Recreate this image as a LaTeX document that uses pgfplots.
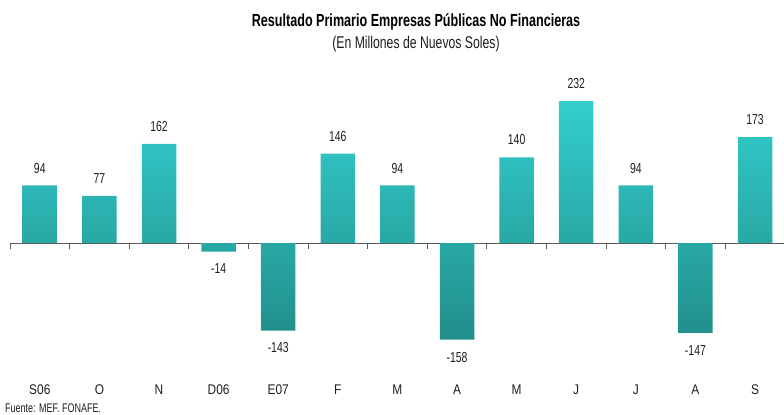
\documentclass[border=0pt]{standalone}
\usepackage{fontspec}
\setmainfont[FakeStretch=0.72]{Liberation Sans}
\newfontfamily\catfont[FakeStretch=0.85]{Liberation Sans}
\usepackage{pgfplots}
\pgfplotsset{compat=1.18}
\definecolor{barTop}{RGB}{51,206,206}
\definecolor{barBot}{RGB}{33,142,138}
\definecolor{txt}{RGB}{30,30,30}
\definecolor{axl}{RGB}{90,90,90}
\begin{document}
\begin{tikzpicture}[x=1bp,y=1bp]
\useasboundingbox (0,0) rectangle (784,414);
\begin{axis}[
  at={(39.8bp,171bp)}, anchor=origin,
  x=59.6bp, y=0.612bp,
  xmin=-0.5, xmax=12.5, ymin=-240, ymax=240,
  axis x line=middle, axis y line=none,
  x axis line style={-, draw=axl, line width=0.8bp},
  hide obscured x ticks=false,
  /pgf/number format/assume math mode=true,
  xtick={0,...,12},
  xticklabels={S06,O,N,D06,E07,F,M,A,M,J,J,A,S},
  major tick length=0pt,
  xticklabel style={anchor=base, yshift=-151bp, font=\catfont\fontsize{14bp}{16bp}\selectfont, text=txt},
  extra x ticks={-0.5,0.5,1.5,2.5,3.5,4.5,5.5,6.5,7.5,8.5,9.5,10.5,11.5,12.5},
  extra x tick labels={},
  extra x tick style={major tick length=6bp, tick align=center, tick style={draw=axl, line width=0.8bp, yshift=-3bp}},
  ybar, bar width=34.5bp, bar shift=0pt,
  nodes near coords,
  nodes near coords align={vertical},
  every node near coord/.append style={font=\fontsize{14.5bp}{16bp}\selectfont, text=txt, inner ysep=12bp, inner xsep=0pt},
  clip=false,
]
\addplot[draw=none, top color=barTop, bottom color=barBot] coordinates {
(0,94) (1,77) (2,162) (3,-14) (4,-143) (5,146) (6,94) (7,-158) (8,140) (9,232) (10,94) (11,-147) (12,173)};
\end{axis}
\node[font=\bfseries\fontsize{17.5bp}{19bp}\selectfont, text=black] at (416,392) {Resultado Primario Empresas Públicas No Financieras};
\node[font=\fontsize{17bp}{19bp}\selectfont, text=txt] at (416,369.5) {(En Millones de Nuevos Soles)};
\node[font=\fontsize{12.5bp}{14bp}\selectfont, text=txt, anchor=base west, inner sep=0pt] at (5,2) {Fuente: MEF. FONAFE.};
\end{tikzpicture}
\end{document}
